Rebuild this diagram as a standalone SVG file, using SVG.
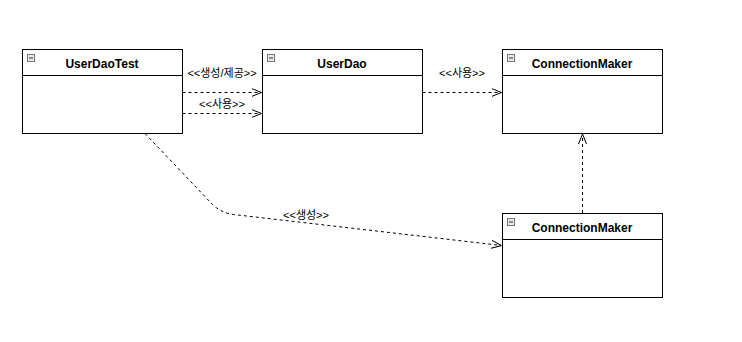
<svg xmlns="http://www.w3.org/2000/svg" width="742" height="342" viewBox="0 0 742 342">
<style>
.box{fill:#fff;stroke:#000;stroke-width:1}
.title{font-family:"Liberation Sans",Arial,sans-serif;font-weight:bold;font-size:12px;text-anchor:middle;fill:#000}
.lbl{font-family:"Liberation Sans","Noto Sans CJK KR",sans-serif;font-size:11px;text-anchor:middle;fill:#000}
.edge{fill:none;stroke:#000;stroke-width:1;stroke-dasharray:3,3}
.ico{fill:#e8e8e8;stroke:#777;stroke-width:1}
</style>
<defs>
<marker id="open" viewBox="0 0 10 10" refX="10" refY="5" markerWidth="10" markerHeight="10" markerUnits="userSpaceOnUse" orient="auto">
<path d="M0,1 L10,5 L0,9" fill="none" stroke="#000" stroke-width="1"/>
</marker>
</defs>
<rect width="742" height="342" fill="#fff"/>
<g id="UserDaoTest">
<rect class="box" x="22.5" y="49.5" width="160" height="84"/>
<line x1="22.5" y1="75.5" x2="182.5" y2="75.5" stroke="#000"/>
<rect class="ico" x="27.5" y="54.5" width="7" height="7"/><line x1="29" y1="58" x2="33" y2="58" stroke="#333"/>
<text class="title" x="102" y="68">UserDaoTest</text>
</g>
<g id="UserDao">
<rect class="box" x="262.5" y="49.5" width="160" height="84"/>
<line x1="262.5" y1="75.5" x2="422.5" y2="75.5" stroke="#000"/>
<rect class="ico" x="267.5" y="54.5" width="7" height="7"/><line x1="269" y1="58" x2="273" y2="58" stroke="#333"/>
<text class="title" x="342" y="68">UserDao</text>
</g>
<g id="ConnectionMaker1">
<rect class="box" x="502.5" y="49.5" width="160" height="84"/>
<line x1="502.5" y1="75.5" x2="662.5" y2="75.5" stroke="#000"/>
<rect class="ico" x="507.5" y="54.5" width="7" height="7"/><line x1="509" y1="58" x2="513" y2="58" stroke="#333"/>
<text class="title" x="582" y="68">ConnectionMaker</text>
</g>
<g id="ConnectionMaker2">
<rect class="box" x="502.5" y="213.5" width="160" height="84"/>
<line x1="502.5" y1="239.5" x2="662.5" y2="239.5" stroke="#000"/>
<rect class="ico" x="507.5" y="218.5" width="7" height="7"/><line x1="509" y1="222" x2="513" y2="222" stroke="#333"/>
<text class="title" x="582" y="232">ConnectionMaker</text>
</g>
<g id="connectors">
<path class="edge" d="M182.5,92.5 L261.5,92.5" marker-end="url(#open)"/>
<path class="edge" d="M182.5,113.5 L261.5,113.5" marker-end="url(#open)"/>
<path class="edge" d="M422.5,92.5 L501.5,92.5" marker-end="url(#open)"/>
<path class="edge" d="M582.5,213 L582.5,134" marker-end="url(#open)"/>
<path class="edge" d="M145,133.5 L212,204 Q222,214 238,215 L501.5,245.5" marker-end="url(#open)"/>
<text class="lbl" x="222" y="77">&lt;&lt;생성/제공&gt;&gt;</text>
<text class="lbl" x="222" y="108">&lt;&lt;사용&gt;&gt;</text>
<text class="lbl" x="462" y="77">&lt;&lt;사용&gt;&gt;</text>
<text class="lbl" x="306" y="219">&lt;&lt;생성&gt;&gt;</text>
</g>
</svg>
